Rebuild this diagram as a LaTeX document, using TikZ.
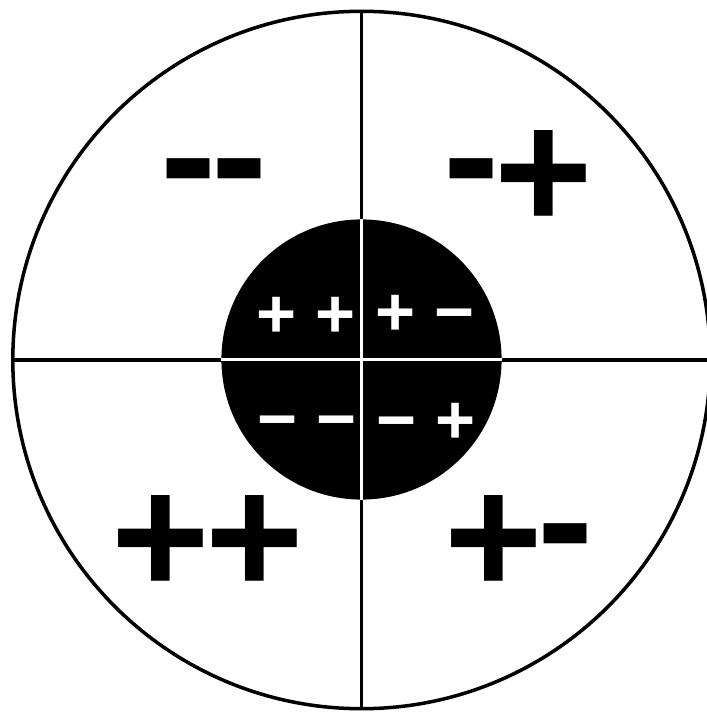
\documentclass[tikz,border=0pt]{standalone}
\usepackage{fontspec}
\setmainfont{Liberation Sans}
\newcommand{\hy}{\raisebox{0.1em}{-}}
\newcommand{\tk}{\kern-0.03em}
\begin{document}
\begin{tikzpicture}[x=0.01cm, y=-0.01cm,
        divider/.style={line width=0.9pt},
        bigsign/.style={inner sep=0pt, font=\fontsize{48}{48}\selectfont\bfseries},
        smallsign/.style={inner sep=0pt, text=white, font=\fontsize{19.5}{19.5}\selectfont\bfseries}]
    \useasboundingbox (0,0) rectangle (707,713);
    %cerchio esterno
    \node[circle, draw, line width=1pt, minimum size=6.97cm, inner sep=0pt] (outer) at (361.5,360) {};
    \draw[divider] (outer.north) -- (outer.south);
    \draw[divider] (outer.west) -- (outer.east);
    %cerchio interno
    \node[circle, fill=black, minimum size=2.8cm, inner sep=0pt] (core) at (361.5,359.5) {};
    \draw[divider, white] (core.north) -- (core.south);
    \draw[divider, white] (core.west) -- (core.east);
    %segni esterni
    \node[bigsign] (mm) at (214,194) {\hy\tk\hy};
    \node[bigsign] (mp) at (518.5,180) {\hy\tk+};
    \node[bigsign] (pp) at (207.5,545) {+\tk+};
    \node[bigsign] (pm) at (519,545) {+\tk\hy};
    %segni interni
    \node[smallsign] (ipp) at (306,317) {+ +};
    \node[smallsign] (ipm) at (425,315) {+ −};
    \node[smallsign] (imm) at (307,429) {− −};
    \node[smallsign] (imp) at (426,423) {− +};
\end{tikzpicture}
\end{document}
